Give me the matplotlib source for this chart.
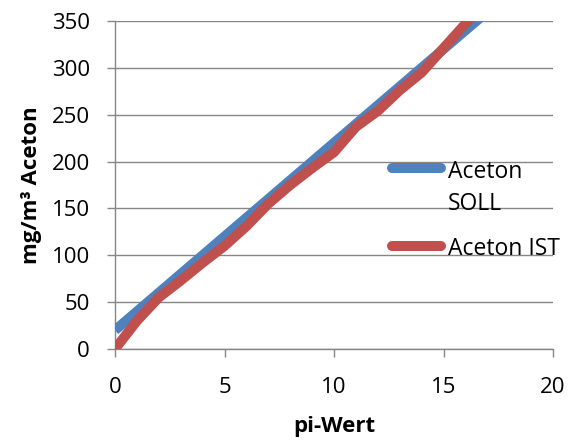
import matplotlib
matplotlib.use("Agg")
import matplotlib.pyplot as plt
from matplotlib.lines import Line2D

plt.rcParams['font.family'] = ['Open Sans', 'DejaVu Sans']

soll_x = [0, 5, 10, 15, 20]
soll_y = [20, 120, 220, 320, 420]

ist_x = [0, 1, 2, 3, 4, 5, 6, 7, 8, 9, 10, 11, 12, 13, 14, 15, 16, 17]
ist_y = [0, 30, 55, 73, 92, 110, 131, 155, 175, 193, 210, 237, 254, 276, 295, 321, 347, 372]

x_ticks = [0, 5, 10, 15, 20]
y_ticks = [0, 50, 100, 150, 200, 250, 300, 350]

series_labels = ['Aceton\nSOLL', 'Aceton IST']

blue = '#4F81BD'
red = '#C0504D'
gray = '#868686'

W, H = 571, 441
fig = plt.figure(figsize=(W/100, H/100), dpi=100)
ax = fig.add_axes([115/W, 1-349/H, (553-115)/W, (349-21)/H])

ax.plot(soll_x, soll_y, color=blue, lw=7.2, solid_capstyle='butt', solid_joinstyle='round', zorder=3)
ax.plot(ist_x, ist_y, color=red, lw=7.2, solid_capstyle='butt', solid_joinstyle='round', zorder=4)

ax.set_xlim(0, 20)
ax.set_ylim(0, 350)
ax.set_xticks(x_ticks)
ax.set_yticks(y_ticks)
ax.grid(axis='y', color=gray, lw=1.0)
ax.set_axisbelow(True)
for s in ['top', 'right']:
    ax.spines[s].set_visible(False)
for s in ['left', 'bottom']:
    ax.spines[s].set_color(gray)
    ax.spines[s].set_linewidth(1.0)
ax.tick_params(axis='both', colors=gray, length=6, width=1.0, labelcolor='black', labelsize=16)
ax.tick_params(axis='y', pad=12)
ax.tick_params(axis='x', pad=14)

ax.set_xlabel('pi-Wert', fontsize=16, fontweight='bold', labelpad=13)
ax.set_ylabel('mg/m³ Aceton', fontsize=16, fontweight='bold', labelpad=7)

# legend (manual, to keep handle aligned with first text line like the original)
leg_items = [(blue, series_labels[0], 168, 178), (red, series_labels[1], 246, 255)]
for col, lab, yh, yb in leg_items:
    fig.add_artist(Line2D([392/W, 441/W], [1-yh/H, 1-yh/H], transform=fig.transFigure,
                          color=col, lw=7.2, solid_capstyle='round'))
    lines = lab.split('\n')
    for i, t in enumerate(lines):
        fig.text(448/W, 1-(yb + i*32)/H, t, fontsize=16.5, va='baseline', ha='left')

fig.savefig('out.png', dpi=100)
